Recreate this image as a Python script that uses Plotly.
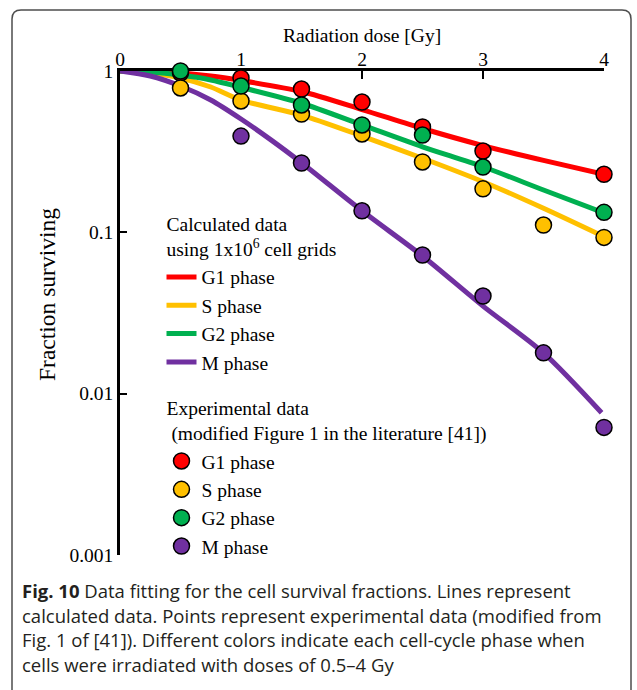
import plotly.graph_objects as go

# ---- data -------------------------------------------------------------
phases = ["G1 phase", "S phase", "G2 phase", "M phase"]
colors = ["#FF0000", "#FFC000", "#00B050", "#7030A0"]

# calculated survival curves (1x10^6 cell grids)
calc_dose = [0, 0.25, 0.5, 0.75, 1, 1.5, 2, 2.5, 3, 3.5, 4]
calc_g1 = [1, 0.993, 0.972, 0.931, 0.873, 0.746, 0.577, 0.440, 0.345, 0.279, 0.229]
calc_s = [1, 0.972, 0.905, 0.796, 0.661, 0.533, 0.395, 0.288, 0.206, 0.141, 0.094]
calc_g2 = [1, 0.986, 0.944, 0.880, 0.792, 0.631, 0.463, 0.339, 0.255, 0.183, 0.132]
calc_m_dose = [0, 0.25, 0.5, 0.75, 1, 1.25, 1.5, 2, 2.5, 3, 3.5, 3.98]
calc_m = [1, 0.931, 0.807, 0.661, 0.504, 0.373, 0.270, 0.136, 0.0713, 0.0349, 0.0179, 0.00761]

# experimental survival fractions
exp_g1_dose = [0.5, 1, 1.5, 2, 2.5, 3, 4]
exp_g1 = [0.972, 0.905, 0.773, 0.642, 0.450, 0.319, 0.229]
exp_s_dose = [0.5, 1, 1.5, 2, 2.5, 3, 3.5, 4]
exp_s = [0.785, 0.652, 0.541, 0.407, 0.273, 0.186, 0.111, 0.093]
exp_g2_dose = [0.5, 1, 1.5, 2, 2.5, 3, 4]
exp_g2 = [1.0, 0.807, 0.616, 0.463, 0.401, 0.254, 0.133]
exp_m_dose = [1, 1.5, 2, 2.5, 3, 3.5, 4]
exp_m = [0.395, 0.269, 0.136, 0.0723, 0.0403, 0.0179, 0.00618]

x_ticks = [0, 1, 2, 3, 4]
y_ticks = [1, 0.1, 0.01, 0.001]
y_ticktext = ["1", "0.1", "0.01", "0.001"]

caption_lines = [
    "<b>Fig. 10</b> Data fitting for the cell survival fractions. Lines represent",
    "calculated data. Points represent experimental data (modified from",
    "Fig. 1 of [41]). Different colors indicate each cell-cycle phase when",
    "cells were irradiated with doses of 0.5\u20134 Gy",
]

SERIF = "Liberation Serif, Times New Roman, serif"
SANS = "Open Sans, Noto Sans, sans-serif"
FS = 19.5

calc_sets = [(calc_dose, calc_g1), (calc_dose, calc_s), (calc_dose, calc_g2), (calc_m_dose, calc_m)]
exp_sets = [(exp_g1_dose, exp_g1), (exp_s_dose, exp_s), (exp_g2_dose, exp_g2), (exp_m_dose, exp_m)]

fig = go.Figure()

for i, (x, y) in enumerate(calc_sets):
    fig.add_trace(go.Scatter(
        x=x, y=y, mode="lines", name=phases[i],
        line=dict(color=colors[i], width=5, shape="spline", smoothing=0.8),
        legendgroup="calc",
        legendgrouptitle=dict(text="Calculated data<br>using 1x10<sup>6</sup> cell grids") if i == 0 else None,
        cliponaxis=False,
    ))

for i, (x, y) in enumerate(exp_sets):
    fig.add_trace(go.Scatter(
        x=x, y=y, mode="markers", name=phases[i],
        marker=dict(color=colors[i], size=16, line=dict(color="black", width=1.5)),
        legendgroup="exp",
        legendgrouptitle=dict(text="Experimental data<br> (modified Figure 1 in the literature [41])") if i == 0 else None,
        cliponaxis=False,
    ))

fig.update_xaxes(
    side="top", range=[0, 4], tickvals=x_ticks,
    ticks="inside", ticklen=8, tickwidth=2, tickcolor="black",
    showline=True, linewidth=2.5, linecolor="black",
    showgrid=False, zeroline=False, layer="below traces",
    ticklabelstandoff=-6,
    tickfont=dict(family=SERIF, size=FS, color="black"),
)
fig.update_yaxes(
    type="log", range=[-3, 0], tickvals=y_ticks, ticktext=y_ticktext,
    ticks="inside", ticklen=7, tickwidth=2, tickcolor="black",
    showline=True, linewidth=2.5, linecolor="black",
    showgrid=False, zeroline=False, layer="below traces",
    tickfont=dict(family=SERIF, size=FS, color="black"),
)

annotations = [
    dict(text="Radiation dose [Gy]", x=0.5, y=(555 - 35) / 484, xref="paper", yref="paper",
         showarrow=False, xanchor="center", yanchor="middle",
         font=dict(family=SERIF, size=FS, color="black")),
    dict(text="Fraction surviving", x=(47 - 120) / 484, y=(555 - 295) / 484, xref="paper", yref="paper",
         showarrow=False, textangle=-90, xanchor="center", yanchor="middle",
         font=dict(family=SERIF, size=23.5, color="black")),
]
caption_y = [590.5, 615, 639.5, 664]
for txt, py in zip(caption_lines, caption_y):
    annotations.append(dict(
        text=txt, x=(20 - 120) / 484, y=(555 - py) / 484, xref="paper", yref="paper",
        showarrow=False, xanchor="left", yanchor="middle", align="left",
        font=dict(family=SANS, size=18.5, color="#231F20"),
    ))

# rounded panel border (open at the bottom, runs off the page)
x0, x1 = (12 - 120) / 484, (631 - 120) / 484
yt, yb = (555 - 10) / 484, (555 - 720) / 484
r = 9 / 484
frame_path = (f"M{x0},{yb} L{x0},{yt - r} Q{x0},{yt} {x0 + r},{yt} "
              f"L{x1 - r},{yt} Q{x1},{yt} {x1},{yt - r} L{x1},{yb}")

fig.update_layout(
    width=637, height=690, autosize=False,
    margin=dict(l=120, r=33, t=71, b=135),
    paper_bgcolor="white", plot_bgcolor="white",
    showlegend=True,
    legend=dict(
        x=(161.5 - 120) / 484, y=(555 - 204) / 484, xanchor="left", yanchor="top",
        bgcolor="rgba(0,0,0,0)", traceorder="grouped", tracegroupgap=17,
        font=dict(family=SERIF, size=FS, color="black"),
        grouptitlefont=dict(family=SERIF, size=FS, color="black"),
        itemwidth=30,
    ),
    annotations=annotations,
    shapes=[dict(type="path", path=frame_path, xref="paper", yref="paper",
                 line=dict(color="#4D4D4D", width=1.5), layer="above")],
)

fig.write_html("out.html")
